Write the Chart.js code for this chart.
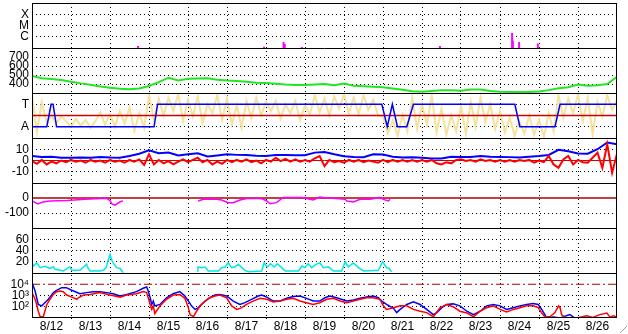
<!DOCTYPE html>
<html>
<head>
<meta charset="utf-8">
<script src="https://cdn.jsdelivr.net/npm/chart.js@4.4.0/dist/chart.umd.min.js"></script>
<style>
  html, body { margin: 0; padding: 0; background: #fff; }
  #wrap { position: relative; width: 628px; height: 334px; }
  #grip {
    position: absolute; right: 1px; bottom: 1px; width: 13px; height: 13px;
    background: repeating-linear-gradient(135deg, transparent 0 3px, #a0a0a0 3px 4px, #fff 4px 5px);
    clip-path: polygon(100% 0, 100% 100%, 0 100%);
  }
</style>
</head>
<body>
<div id="wrap"><canvas id="chart" width="628" height="334"></canvas><div id="grip"></div></div>
<script>
// days since 8/12 00:00
const dayLabels = ["8/12", "8/13", "8/14", "8/15", "8/16", "8/17", "8/18", "8/19",
  "8/20", "8/21", "8/22", "8/23", "8/24", "8/25", "8/26"];

// panel 1: x-ray flares
const flareTicks = [1e-6, 1e-5, 1e-4];
const flareTickText = ["C", "M", "X"];
const flareT = [2.72, 5.95, 6.45, 6.48, 6.92, 10.46, 12.31, 12.33, 12.49, 12.97];
const flarePeak = [1.5e-7, 1.3e-7, 3.5e-7, 2.3e-7, 1.2e-7, 1.5e-7, 2.2e-6, 4.5e-7, 3.5e-7, 2.5e-7];

// panel 2: wind speed, every 6 h
const speedTicks = [400, 500, 600, 700];
const speedStep = 0.25;
const speed = [489, 463, 455, 444, 425, 407, 392, 372, 359, 348, 341, 350, 378, 420, 470, 440,
  458, 462, 465, 448, 438, 432, 425, 415, 410, 404, 395, 390, 390, 395, 400, 386,
  405, 380, 376, 370, 365, 350, 335, 320, 315, 322, 330, 330, 325, 340, 340, 322,
  315, 312, 311, 311, 318, 332, 352, 365, 395, 380, 385, 400, 480];

// panel 3: sector (A = 1, T = 3) and angle scatter
const sectorTicks = [1, 3];
const sectorTickText = ["A", "T"];
const sectorMid = 2;
const sectorT = [0, 0.38, 0.49, 0.54, 0.63, 3.13, 3.22, 8.97, 9.11, 9.24, 9.37, 9.61, 9.78, 12.38, 12.51, 13.41, 13.54, 15];
const sectorV = [1, 1, 3, 3, 1, 1, 3, 3, 1, 3, 1, 1, 3, 3, 1, 1, 3, 3];
const angleStep = 0.125;
const angle = [3.8, 0.5, 3.2, 1.4, 2.0, 1.3, 1.9, 1.5, 1.0, 1.7, 1.1, 1.6, 0.9, 1.5, 2.3, 1.2,
  2.1, 1.0, 2.4, 1.3, 2.7, 0.6, 2.2, 0.9, 3.8, 1.6, 3.5, 2.0, 3.6, 2.4, 3.9, 1.5,
  3.4, 1.9, 3.7, 1.3, 3.0, 2.2, 3.8, 1.6, 3.5, 1.2, 2.9, 0.9, 3.3, 1.8, 3.6, 2.0,
  3.2, 2.4, 3.3, 1.7, 3.0, 2.2, 3.3, 1.6, 2.9, 2.1, 3.8, 2.3, 3.5, 2.0, 3.7, 2.6,
  3.9, 2.2, 3.6, 2.1, 3.8, 2.5, 3.4, 2.0, 1.9, 0.4, 1.6, 0.2, 2.1, 0.6, 3.6, 0.8,
  3.0, 1.2, 3.8, 0.5, 2.6, 0.3, 2.0, 0.6, 2.8, 0.4, 3.2, 1.0, 3.6, 1.4, 3.0, 0.8,
  2.4, 0.5, 1.8, 0.2, 1.5, 0.4, 2.0, 0.3, 1.6, 0.1, 2.2, 0.6, 3.8, 1.8, 3.5, 2.2,
  3.9, 1.5, 3.6, 0.3, 3.2, 1.9, 3.8, 2.5, 3.4];

// panel 4: field
const fieldTicks = [-10, 0, 10];
const btStep = 0.25;
const bt = [4, 3.1, 3.4, 2.5, 2.5, 2.6, 2.5, 3.1, 2.6, 2.5, 4, 6, 9, 6.5, 7, 4.5,
  5.5, 6.4, 3.6, 4.5, 5.5, 5, 4.8, 4.2, 4, 4.8, 4.8, 4.6, 4.6, 7, 7.5, 5.5,
  3.8, 3.2, 3, 5.5, 5.3, 3.4, 2.6, 2.8, 2.5, 1.8, 1.8, 3.4, 3.2, 3.2, 4, 3.3,
  3.2, 3, 2.6, 3.4, 4, 4.9, 9.5, 8.2, 6.2, 6, 10, 16, 14.5];
const bzStep = 0.125;
const bz = [-0.5, -3, 0.5, -3.5, -1, -2.5, 0, -1.5, 0.5, -1, 0, -2, 0.5, -1, 0, -2,
  0.5, -1, 0, -2, 0.5, -1, 1, -4, 5.5, -3.5, 0.5, -2.5, -0.5, -3.5, -1, 1,
  -1.5, 0.5, 2.5, -1.5, 0.5, -3.5, -1, -3, 0.5, -1.5, 0.5, -1, 1, -1.5, 0, -2.5,
  0.5, -1, 2.5, -0.5, 1.5, -1, 1, -1, 0.5, -1, 2, 4, -5, 0.5, -1.5, -0.5, -2, 0.5,
  -1, 0.5, -1.5, 0, -1, -2, 0.5, -1.5, 0.5, -1, 0.5, -1, 0.5, -1, 0.5, -1, 0.5, -2.5,
  -3.5, -1.5, -2.5, 0.5, 1, -0.5, 0.5, -1, 1, -0.5, 0.5, -1, 0.5, -1, 0.5, -1,
  0.5, -0.5, 0.5, -2, 0, -1.5, 4, -3.5, -6.5, 1, 4, -3.5, 0.5, -1.5, -2, 2.5,
  7, -6.5, 14.4, -10.8, 6];

// panel 5: storm index
const dstTicks = [-100, 0];
const dstT = [0, 0.15, 0.28, 0.46, 0.9, 1.36, 1.92, 2.0, 2.05, 2.13, 2.26, 2.33, 2.4,
  4.26, 4.39, 4.74, 4.86, 5.03, 5.16, 5.33, 5.51, 5.89, 6.02, 6.10, 6.27, 6.44, 6.92,
  7.04, 7.21, 7.38, 7.51, 7.81, 8.03, 8.07, 8.24, 8.41, 8.67, 8.92, 9.01, 9.14, 9.18];
const dstV = [-20, -40, -27, -20, -16, -9, -2, -18, -40, -47, -25, -20, null,
  -20, -9, -9, -13, -31, -31, -13, -4, -4, -20, -38, -31, 4, 4,
  -4, -13, 7, 2, -4, -9, -20, -27, -9, -9, 4, -9, -20, -9];

// panel 6: density
const densTicks = [20, 40, 60];
const densT = [0, 0.03, 0.12, 0.21, 0.33, 0.46, 0.55, 0.59, 0.72, 0.80, 0.97, 1.02, 1.23, 1.32,
  1.40, 1.44, 1.49, 1.74, 1.83, 1.90, 1.96, 2.0, 2.04, 2.08, 2.17, 2.26, 2.34, 2.4,
  4.25, 4.26, 4.35, 4.44, 4.52, 4.78, 4.86, 4.95, 5.03, 5.12, 5.21, 5.29, 5.38, 5.46,
  5.55, 5.89, 5.95, 6.03, 6.12, 6.21, 6.29, 6.40, 6.49, 6.83, 6.92, 7.0, 7.08, 7.17,
  7.28, 7.38, 7.47, 7.60, 7.73, 7.94, 8.03, 8.11, 8.24, 8.37, 8.50, 8.88, 8.99, 9.09,
  9.16, 9.22];
const densV = [20, 12, 18, 9.5, 12, 8, 11, 6.5, 4.7, 3.6, 10.7, 4.7, 4.7, 10.7,
  15.4, 8, 3.6, 3.6, 4.7, 9.5, 24, 33, 24, 18, 9.5, 8, 0.5, null,
  2.3, 10.7, 9.5, 10.7, 3.6, 3.6, 9.5, 10.7, 18, 9.5, 11, 15.4, 9.5, 4.7,
  2.3, 3.6, 18, 10.7, 16.5, 10.7, 16.5, 9.5, 3.6, 3.6, 12.4, 9.5, 16.5, 9.5,
  15.4, 18, 9.5, 11, 3.6, 3.6, 20, 11, 18, 9.5, 3.6, 4.7, 20, 9.5,
  8, 2];

// panel 7: electron flux
const fluxTicks = [100, 1000, 10000];
const fluxTickText = ["10\u00b2", "10\u00b3", "10\u2074"];
const fluxAlert = 10000;
const fluxBlueT = [0, 0.08, 0.12, 0.16, 0.25, 0.33, 0.42, 0.55, 0.63, 0.76, 0.88, 1.02, 1.23, 1.40,
  1.57, 1.74, 1.92, 2.08, 2.26, 2.43, 2.68, 2.85, 2.94, 2.98, 3.03, 3.07, 3.11, 3.15,
  3.28, 3.45, 3.62, 3.79, 3.92, 4.01, 4.09, 4.18, 4.26, 4.35, 4.44, 4.56, 4.69, 4.82,
  4.99, 5.16, 5.33, 5.46, 5.63, 5.80, 5.89, 6.02, 6.19, 6.36, 6.53, 6.70, 6.87, 7.04,
  7.21, 7.38, 7.51, 7.64, 7.81, 8.07, 8.24, 8.41, 8.58, 8.75, 8.88, 8.97, 9.09, 9.27,
  9.35, 9.44, 9.61, 9.78, 9.95, 10.12, 10.29, 10.38, 10.51, 10.63, 10.80, 10.97, 11.15,
  11.32, 11.49, 11.66, 11.83, 12.0, 12.17, 12.34, 12.51, 12.68, 12.85, 12.98, 13.07,
  13.15, 13.20, 13.37, 13.54, 13.79, 13.92, 15];
const fluxBlue = [14000, 2500, 630, 160, 120, 230, 460, 1800, 2900, 5000, 5000, 2900, 1450, 1800,
  2200, 2200, 1800, 1450, 900, 1250, 2200, 4400, 5700, 2500, 630, 160, 320, 120,
  160, 630, 1450, 2200, 900, 320, 120, 58, 80, 160, 320, 630, 1100, 1250,
  900, 320, 160, 230, 460, 900, 1100, 720, 320, 320, 560, 800, 900, 560,
  320, 320, 630, 900, 630, 320, 400, 560, 720, 900, 630, 320, 160, 72,
  30, 58, 160, 270, 160, 58, 20, 30, 83, 160, 180, 120, 40,
  20, 40, 120, 160, 120, 58, 83, 120, 160, 190, 160, 58,
  20, 10, 12, 10, 20, 10, 10];
const fluxRedT = [0, 0.08, 0.12, 0.16, 0.21, 0.29, 0.33, 0.38, 0.46, 0.55, 0.63, 0.72, 0.80, 0.89,
  1.02, 1.15, 1.19, 1.32, 1.49, 1.74, 2.0, 2.26, 2.43, 2.68, 2.85, 2.94, 2.98, 3.03,
  3.07, 3.11, 3.15, 3.28, 3.45, 3.62, 3.79, 3.92, 4.01, 4.05, 4.14, 4.22, 4.31, 4.44,
  4.56, 4.69, 4.82, 4.99, 5.12, 5.25, 5.37, 5.50, 5.67, 5.85, 6.02, 6.19, 6.36, 6.53,
  6.70, 6.87, 7.04, 7.21, 7.38, 7.56, 7.73, 7.90, 8.07, 8.24, 8.41, 8.58, 8.75, 8.92,
  9.01, 9.09, 9.27, 9.44, 9.61, 9.78, 9.95, 10.12, 10.29, 10.46, 10.63, 10.80, 10.97,
  11.15, 11.32, 11.49, 11.66, 11.83, 12.0, 12.17, 12.34, 12.51, 12.68, 12.85, 12.98,
  13.07, 13.15, 13.28, 13.41, 13.50, 13.54, 13.58, 13.67, 13.97, 14.22, 14.38, 14.56,
  14.74, 14.82, 14.91, 15];
const fluxRed = [1800, 460, 160, 40, 13, 13, 40, 160, 460, 1250, 2200, 2500, 2200, 1100,
  720, 460, 630, 1100, 1250, 1800, 1100, 720, 1100, 1450, 2200, 1800, 630, 160,
  58, 120, 25, 120, 460, 1100, 1250, 560, 83, 20, 13, 40, 120, 320,
  630, 900, 1100, 630, 120, 58, 80, 160, 320, 560, 460, 270, 320, 460,
  560, 320, 230, 160, 230, 460, 560, 320, 230, 320, 460, 630, 630, 460,
  120, 58, 80, 120, 120, 58, 40, 30, 13, 80, 160, 100, 40,
  28, 13, 40, 83, 120, 58, 35, 58, 83, 120, 120, 83,
  28, 13, 13, 30, 120, 83, 20, 11, 10, 16, 11, 20,
  28, 12, 16, 12];

const panelIds = ["p1", "p2", "p3", "p4", "p5", "p6", "p7"];

function pts(ts, vs) {
  return ts.map(function(t, i) { return { x: t, y: vs[i] }; });
}
function stepPts(step, vs) {
  return vs.map(function(v, i) { return { x: i * step, y: v }; });
}
function flatLine(v) {
  return [{ x: 0, y: v }, { x: dayLabels.length, y: v }];
}

const flarePts = [];
flareT.forEach(function(t, i) {
  flarePts.push({ x: t, y: 1e-7 }, { x: t, y: flarePeak[i] }, { x: t, y: null });
});

const labelFont = { family: "'Liberation Sans', Arial, sans-serif", size: 12 };
const clear = "rgba(0,0,0,0)";

function yPanel(weight, type, min, max, tickVals, tickText, noGrid) {
  return {
    type: type, min: min, max: max, weight: weight,
    stack: "panels", stackWeight: 1, position: "left",
    border: { display: false, dash: [1, 3] },
    grid: {
      drawTicks: false,
      color: function(c) {
        return c.tick && noGrid.indexOf(c.tick.value) < 0 ? "#000" : clear;
      }
    },
    ticks: {
      color: "#000", font: labelFont, padding: 3, autoSkip: false,
      callback: function(v, i) { return tickText[i]; }
    },
    afterBuildTicks: function(s) {
      s.ticks = tickVals.map(function(v) { return { value: v }; });
    },
    afterFit: function(s) {
      s.width = 32;
      s.paddingTop = 0;
      s.paddingBottom = 0;
    }
  };
}

const xTicks = [];
dayLabels.forEach(function(d, i) { xTicks.push(i, i + 0.5); });
xTicks.push(dayLabels.length);

function dayLine(c) {
  const v = c.tick ? c.tick.value : 0;
  return v % 1 === 0 && v > 0 && v < dayLabels.length ? "#000" : clear;
}

// equal-height panels inside the plot frame, plus frame and separators
const frame = {
  id: "frame",
  afterLayout: function(chart) {
    const a = chart.chartArea;
    const h = (a.bottom - a.top) / panelIds.length;
    panelIds.forEach(function(id, k) {
      const s = chart.scales[id];
      s.top = a.top + k * h;
      s.bottom = s.top + h;
      s.height = h;
      s.configure();
    });
  },
  afterDatasetsDraw: function(chart) {
    const ctx = chart.ctx;
    const a = chart.chartArea;
    ctx.save();
    ctx.strokeStyle = "#000";
    ctx.lineWidth = 1;
    ctx.setLineDash([]);
    ctx.strokeRect(Math.round(a.left) + 0.5, Math.round(a.top) + 0.5,
      Math.round(a.width) - 1, Math.round(a.height) - 1);
    panelIds.forEach(function(id) {
      const y = Math.round(chart.scales[id].top) + 0.5;
      ctx.beginPath();
      ctx.moveTo(a.left, y);
      ctx.lineTo(a.right, y);
      ctx.stroke();
    });
    ctx.restore();
  }
};

function line(yId, data, color, width, order, extra) {
  return Object.assign({
    yAxisID: yId, data: data, borderColor: color, borderWidth: width,
    pointRadius: 0, tension: 0, spanGaps: false, fill: false, order: order
  }, extra || {});
}

new Chart(document.getElementById("chart"), {
  type: "line",
  data: {
    datasets: [
      line("p1", flarePts, "#ff00ff", 2, 1),
      line("p2", stepPts(speedStep, speed), "#22e622", 2, 1),
      line("p3", pts(sectorT, sectorV), "#0000ff", 1.5, 1),
      line("p3", flatLine(sectorMid), "#cc0000", 1.5, 2),
      line("p3", stepPts(angleStep, angle), "#f6e29c", 2, 3),
      line("p4", stepPts(bzStep, bz), "#ff0000", 2, 1),
      line("p4", stepPts(btStep, bt), "#0000ff", 2, 2),
      line("p4", flatLine(0), "#cc0000", 1, 3),
      line("p5", pts(dstT, dstV), "#ff00ff", 1.5, 1),
      line("p5", flatLine(0), "#b00000", 1.5, 2),
      line("p6", pts(densT, densV), "#00e8e8", 1.5, 1),
      line("p7", pts(fluxRedT, fluxRed), "#ff0000", 1.5, 1),
      line("p7", pts(fluxBlueT, fluxBlue), "#0000ff", 1.5, 2),
      line("p7", flatLine(fluxAlert), "#b00000", 1, 3, { borderDash: [8, 3, 2, 3] })
    ]
  },
  options: {
    responsive: false,
    animation: false,
    layout: { padding: { top: 3, right: 11, left: 0, bottom: 0 } },
    plugins: { legend: { display: false }, tooltip: { enabled: false } },
    scales: {
      x: {
        type: "linear", min: 0, max: dayLabels.length, position: "bottom",
        border: { display: false, dash: [1, 3] },
        grid: { color: dayLine, tickColor: dayLine, tickLength: 3, tickBorderDash: [1, 2] },
        ticks: {
          color: "#000", font: labelFont, padding: -2, autoSkip: false, maxRotation: 0,
          callback: function(v) { return v % 1 === 0.5 ? dayLabels[Math.floor(v)] : ""; }
        },
        afterBuildTicks: function(s) {
          s.ticks = xTicks.map(function(v) { return { value: v }; });
        },
        afterFit: function(s) { s.height = 16; }
      },
      p1: yPanel(7, "logarithmic", 1e-7, 1e-3, flareTicks, flareTickText, []),
      p2: yPanel(6, "linear", 300, 800, speedTicks, speedTicks.map(String), []),
      p3: yPanel(5, "linear", 0, 4, sectorTicks, sectorTickText, []),
      p4: yPanel(4, "linear", -20, 20, fieldTicks, fieldTicks.map(String), [0]),
      p5: yPanel(3, "linear", -200, 100, dstTicks, dstTicks.map(String), [0]),
      p6: yPanel(2, "linear", 0, 80, densTicks, densTicks.map(String), []),
      p7: yPanel(1, "logarithmic", 10, 100000, fluxTicks, fluxTickText, [fluxAlert])
    }
  },
  plugins: [frame]
});
</script>
</body>
</html>
